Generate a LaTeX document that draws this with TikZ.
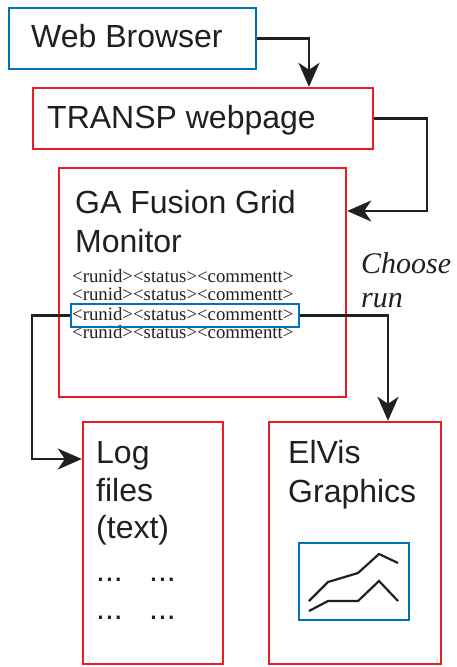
\documentclass[tikz,border=0pt]{standalone}
\usepackage{fontspec}
\setmainfont{Liberation Sans}
\newfontfamily\serifrm{Liberation Serif}
\usetikzlibrary{arrows.meta}
\definecolor{boxred}{RGB}{237,28,36}
\definecolor{boxblue}{RGB}{0,114,188}
\definecolor{ink}{RGB}{35,31,32}
\tikzset{
  redbox/.style={draw=boxred, line width=2.4pt, inner sep=0, minimum width=#1},
  bluebox/.style={draw=boxblue, line width=2.4pt, inner sep=0},
  lbl/.style={inner sep=0, anchor=base west, text=ink, font=\fontsize{32}{36}\selectfont},
  runtxt/.style={inner sep=0, anchor=base west, text=ink, font=\serifrm\fontsize{18.8}{20}\selectfont},
  choosetxt/.style={inner sep=0, anchor=base west, text=ink, font=\serifrm\itshape\fontsize{30}{34}\selectfont},
  conn/.style={draw=ink, line width=2.4pt},
  arr/.style={conn, -{Stealth[length=24pt, width=21pt, inset=7pt]}},
}
\begin{document}
\begin{tikzpicture}[x=1pt, y=-1pt]
\useasboundingbox (0,0) rectangle (456,667);
% boxes
\node[bluebox, minimum width=247pt, minimum height=61pt] (wb) at (132.5,38.5) {};
\node[redbox=340pt, minimum height=61pt] (tr) at (203,118.5) {};
\node[redbox=287pt, minimum height=229pt] (ga) at (202.5,282.5) {};
\node[redbox=140pt, minimum height=242pt] (log) at (153,543) {};
\node[redbox=172pt, minimum height=242pt] (ev) at (355,543) {};
\node[bluebox, minimum width=110pt, minimum height=77pt] (gr) at (354,581.5) {};
% texts
\node[lbl] (t1) at (31,47) {Web Browser};
\node[lbl] (t2) at (47,128) {TRANSP webpage};
\node[lbl] (t3) at (75,213) {GA Fusion Grid};
\node[lbl] (t4) at (75,252) {Monitor};
\node[runtxt] (r1) at (72,282) {<runid><status><commentt>};
\node[runtxt] (r2) at (72,300) {<runid><status><commentt>};
\node[runtxt] (r3) at (72,320) {<runid><status><commentt>};
\node[runtxt] (r4) at (72,338) {<runid><status><commentt>};
\node[bluebox, minimum width=228pt, minimum height=23pt] (hl) at (185,315.5) {};
\node[choosetxt] (ch1) at (361,273) {Choose};
\node[choosetxt] (ch2) at (361,307) {run};
\node[lbl] (l1) at (96,463) {Log};
\node[lbl] (l2) at (96,501) {files};
\node[lbl] (l3) at (96,538) {(text)};
\node[lbl] (l4) at (96,581) {...};
\node[lbl] (l5) at (149,581) {...};
\node[lbl] (l6) at (96,619) {...};
\node[lbl] (l7) at (149,619) {...};
\node[lbl] (e1) at (288,463) {ElVis};
\node[lbl] (e2) at (288,502) {Graphics};
% graph lines
\draw[draw=ink, line width=2.2pt] (309,601) -- (328,582) -- (358,573) -- (379,554) -- (398,563);
\draw[draw=ink, line width=2.2pt] (309,611) -- (328,601) -- (358,601) -- (379,581) -- (398,601);
% connectors
\coordinate (c1) at (309,0);
\coordinate (c2) at (427,211);
\coordinate (c3) at (32,459);
\coordinate (c4) at (388,0);
\draw[arr] (wb.east) -| (c1 |- tr.north);
\draw[arr] (tr.east) -| (c2) -- (c2 -| ga.east);
\draw[arr] (hl.west) -| (c3) -- (c3 -| log.west);
\draw[arr] (hl.east) -| (c4 |- ev.north);
\end{tikzpicture}
\end{document}
